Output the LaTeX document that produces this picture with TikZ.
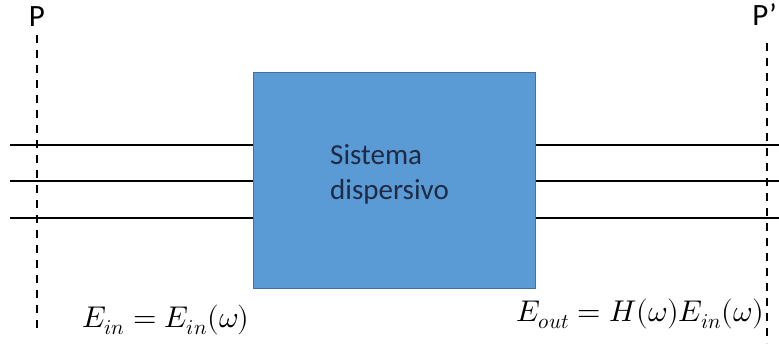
\documentclass[tikz,border=0pt]{standalone}
\usepackage{fontspec}
\setmainfont{Carlito}
\usepackage{unicode-math}
\definecolor{boxfill}{HTML}{5B9BD5}
\definecolor{boxedge}{HTML}{41719C}
\definecolor{boxtext}{HTML}{1F2A44}
\begin{document}
\begin{tikzpicture}[x=1pt,y=-1pt,
  wire/.style={line width=1.8pt},
  plane/.style={line width=1.8pt,dash pattern=on 8pt off 7pt},
  lbl/.style={inner sep=0pt,font=\fontsize{31}{36}\selectfont},
  eq/.style={inner sep=0pt,font=\fontsize{30}{36}\selectfont}]
\useasboundingbox (0,0) rectangle (779,343);
\node[draw=boxedge,fill=boxfill,line width=1pt,minimum width=282pt,minimum height=216pt,inner sep=0pt,anchor=north west] (sys) at (253,72) {};
\node[anchor=west,inner sep=0pt,align=left,text=boxtext,font=\fontsize{29}{35}\selectfont] (txt) at (330,174) {Sistema\\dispersivo};
\foreach \y/\n in {145/a,181/b,218/c}{
  \coordinate (l\n) at (10,\y);
  \coordinate (r\n) at (779,\y);
  \draw[wire] (l\n) -- (sys.west |- l\n);
  \draw[wire] (sys.east |- r\n) -- (r\n);
}
\coordinate (p1) at (37,35);
\coordinate (p2) at (37,330);
\draw[plane] (p1) -- (p2);
\coordinate (q1) at (767,43);
\coordinate (q2) at (767,343);
\draw[plane] (q1) -- (q2);
\node[lbl] (P) at (37,17) {P};
\node[lbl,anchor=east] (Pp) at (777,15) {P’};
\node[eq] (ein) at (166,320) {$E_{in}=E_{in}(\omega)$};
\node[eq,anchor=east] (eout) at (764,314) {$E_{out}=H(\omega)E_{in}(\omega)$};
\end{tikzpicture}
\end{document}
